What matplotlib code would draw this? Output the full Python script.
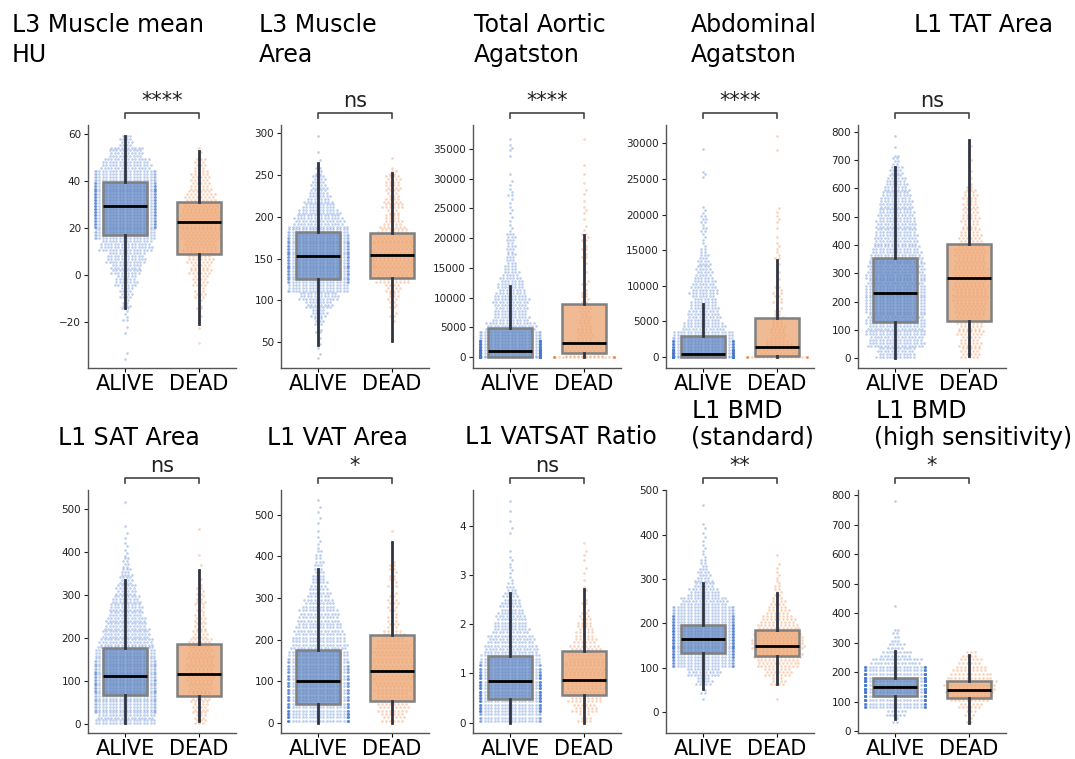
import matplotlib
matplotlib.use("Agg")
import matplotlib.pyplot as plt
import matplotlib.transforms as mtransforms

plt.rcParams['font.family'] = ['DejaVu Sans']

groups = ["ALIVE", "DEAD"]

# --- values ------------------------------------------------------------
# swarm data is kept as (level, count) pairs: how many dots sit around each level
# box data is [whisker low, q1, median, q3, whisker high]

# L3 Muscle mean HU
hu_alive_y = [-34.5, -23.5, -17.5, -12.5, -7.5, -2.5, 2.5, 7.5, 12.5, 17.5, 22.5, 27.5, 32.5, 37.5, 42.5, 47.5, 52.5, 57.5]
hu_alive_n = [2, 2, 5, 10, 16, 26, 36, 46, 62, 75, 95, 100, 100, 95, 80, 58, 40, 15]
hu_dead_y = [-29, -22.5, -17.5, -12.5, -7.5, -2.5, 2.5, 7.5, 12.5, 17.5, 22.5, 27.5, 32.5, 37.5, 42.5, 47.5, 52.5]
hu_dead_n = [1, 1, 3, 5, 11, 16, 22, 26, 33, 40, 41, 38, 33, 22, 19, 12, 3]
hu_box_alive = [-14, 17, 29.5, 39.5, 59.5]
hu_box_dead = [-21, 9, 22.5, 31, 53]

# L3 Muscle Area
ma_alive_y = [33, 45, 55, 65, 75, 85, 95, 105, 115, 125, 135, 145, 155, 165, 175, 185, 195, 205, 215, 225, 235, 245, 255, 265, 278, 297]
ma_alive_n = [2, 2, 3, 5, 9, 14, 24, 35, 55, 65, 70, 70, 70, 68, 62, 55, 45, 38, 28, 20, 15, 12, 6, 2, 1, 1]
ma_dead_y = [55, 65, 75, 85, 95, 105, 115, 125, 135, 145, 155, 165, 175, 185, 195, 205, 215, 225, 235, 245, 255, 270]
ma_dead_n = [1, 1, 3, 5, 6, 8, 12, 25, 30, 33, 33, 30, 30, 22, 14, 10, 16, 10, 12, 12, 5, 1]
ma_box_alive = [46, 125, 153, 182, 265]
ma_box_dead = [51, 127, 154, 181, 253]

# Total Aortic Agatston
ta_alive_y = [750, 2250, 3750, 5250, 6750, 8250, 9750, 11250, 12750, 14250, 15750, 17250, 18750, 20250, 21750, 23250, 24750, 26250, 27750, 29250, 30750, 33750, 35250, 36750]
ta_alive_n = [200, 120, 60, 45, 32, 30, 32, 25, 22, 14, 10, 8, 8, 9, 3, 2, 3, 2, 4, 2, 1, 1, 3, 1]
ta_dead_y = [750, 2250, 3750, 5250, 6750, 8250, 9750, 11250, 12750, 14250, 15750, 17250, 18750, 20250, 21750, 23250, 24750, 26250, 27750, 29250, 30750, 32250, 36750]
ta_dead_n = [30, 26, 12, 10, 8, 9, 6, 4, 5, 3, 3, 4, 4, 6, 2, 1, 3, 1, 2, 1, 1, 1, 1]
ta_zeros = [150, 28]
ta_box_alive = [0, 50, 1000, 4800, 12000]
ta_box_dead = [0, 600, 2400, 8900, 20500]

# Abdominal Agatston
ab_alive_y = [625, 1875, 3125, 4375, 5625, 6875, 8125, 9375, 10625, 11875, 13125, 14375, 15625, 16875, 18125, 19375, 20625, 25625, 29200]
ab_alive_n = [150, 90, 55, 38, 30, 26, 22, 25, 20, 15, 12, 8, 4, 3, 5, 6, 3, 3, 1]
ab_dead_y = [625, 1875, 3125, 4375, 5625, 6875, 8125, 9375, 10625, 11875, 13125, 14375, 15625, 16875, 18125, 19375, 20625, 29000, 31000]
ab_dead_n = [30, 20, 12, 11, 8, 5, 7, 7, 2, 3, 3, 4, 3, 1, 1, 3, 2, 1, 1]
ab_zeros = [200, 25]
ab_box_alive = [0, 0, 460, 3000, 7400]
ab_box_dead = [0, 150, 1450, 5500, 13600]

# L1 TAT Area
tat_alive_y = [20, 60, 100, 140, 180, 220, 260, 300, 340, 380, 420, 460, 500, 540, 580, 620, 660, 700, 745, 785]
tat_alive_n = [45, 66, 70, 70, 72, 72, 70, 70, 66, 58, 52, 48, 45, 40, 34, 26, 16, 8, 1, 1]
tat_dead_y = [20, 60, 100, 140, 180, 220, 260, 300, 340, 380, 420, 460, 500, 540, 580, 620, 660, 700, 740, 770]
tat_dead_n = [20, 22, 26, 28, 32, 35, 34, 37, 31, 31, 24, 18, 18, 15, 14, 5, 3, 3, 2, 1]
tat_box_alive = [3, 127, 229, 355, 676]
tat_box_dead = [8, 131, 284, 404, 771]

# L1 SAT Area
sat_alive_y = [12.5, 37.5, 62.5, 87.5, 112.5, 137.5, 162.5, 187.5, 212.5, 237.5, 262.5, 287.5, 312.5, 337.5, 362.5, 387.5, 412.5, 437.5, 460, 515]
sat_alive_n = [70, 80, 80, 85, 85, 80, 72, 65, 56, 48, 40, 34, 24, 16, 10, 6, 3, 2, 1, 1]
sat_dead_y = [12.5, 37.5, 62.5, 87.5, 112.5, 137.5, 162.5, 187.5, 212.5, 237.5, 262.5, 287.5, 312.5, 337.5, 362.5, 392, 452]
sat_dead_n = [12, 16, 20, 24, 26, 27, 26, 24, 15, 12, 9, 10, 7, 3, 2, 1, 1]
sat_box_alive = [3, 67, 112, 176, 335]
sat_box_dead = [8, 66, 117, 187, 357]

# L1 VAT Area
vat_alive_y = [12.5, 37.5, 62.5, 87.5, 112.5, 137.5, 162.5, 187.5, 212.5, 237.5, 262.5, 287.5, 312.5, 337.5, 362.5, 387.5, 412.5, 437.5, 462.5, 487.5, 512.5, 535]
vat_alive_n = [90, 80, 75, 75, 70, 65, 55, 50, 46, 40, 36, 28, 20, 14, 10, 8, 5, 3, 1, 2, 2, 1]
vat_dead_y = [12.5, 37.5, 62.5, 87.5, 112.5, 137.5, 162.5, 187.5, 212.5, 237.5, 262.5, 287.5, 312.5, 337.5, 362.5, 387.5, 412.5, 462]
vat_dead_n = [18, 24, 26, 28, 30, 30, 30, 26, 17, 9, 7, 9, 5, 7, 6, 4, 1, 1]
vat_box_alive = [0, 46, 101, 176, 369]
vat_box_dead = [0, 52, 124, 210, 434]

# L1 VATSAT Ratio
vs_alive_y = [0.1, 0.3, 0.5, 0.7, 0.9, 1.1, 1.3, 1.5, 1.7, 1.9, 2.1, 2.3, 2.5, 2.7, 2.9, 3.1, 3.3, 3.5, 3.9, 4.1, 4.3, 4.5]
vs_alive_n = [65, 85, 90, 90, 85, 70, 55, 48, 42, 32, 28, 22, 16, 10, 4, 3, 3, 1, 2, 1, 1, 1]
vs_dead_y = [0.1, 0.3, 0.5, 0.7, 0.9, 1.1, 1.3, 1.5, 1.7, 1.9, 2.1, 2.3, 2.5, 2.7, 2.9, 3.1, 3.3, 3.45, 3.65]
vs_dead_n = [10, 19, 25, 29, 31, 30, 28, 24, 17, 13, 10, 5, 4, 3, 1, 2, 1, 2, 1]
vs_box_alive = [0, 0.49, 0.845, 1.35, 2.63]
vs_box_dead = [0, 0.56, 0.87, 1.45, 2.71]

# L1 BMD (standard)
bmd_alive_y = [30, 50, 70, 90, 110, 130, 150, 170, 190, 210, 230, 250, 270, 290, 310, 330, 350, 370, 390, 410, 425, 467]
bmd_alive_n = [1, 4, 14, 30, 70, 80, 85, 85, 85, 75, 60, 42, 28, 18, 12, 7, 4, 3, 2, 2, 1, 1]
bmd_dead_y = [30, 70, 90, 110, 130, 150, 170, 190, 210, 230, 250, 270, 290, 310, 330, 355]
bmd_dead_n = [1, 11, 21, 33, 38, 42, 40, 34, 26, 17, 11, 6, 4, 3, 2, 1]
bmd_box_alive = [51, 133, 164, 197, 292]
bmd_box_dead = [62, 126, 149, 184, 268]

# L1 BMD (high sensitivity)
hs_alive_y = [37.5, 62.5, 87.5, 112.5, 137.5, 162.5, 187.5, 212.5, 237.5, 262.5, 287.5, 312.5, 337.5, 425, 780]
hs_alive_n = [3, 12, 60, 90, 100, 100, 90, 60, 30, 18, 10, 5, 4, 1, 1]
hs_dead_y = [37.5, 62.5, 87.5, 112.5, 137.5, 162.5, 187.5, 212.5, 237.5, 262.5]
hs_dead_n = [3, 6, 12, 20, 26, 28, 23, 17, 12, 7]
hs_box_alive = [41, 120, 150, 181, 272]
hs_box_dead = [29, 113, 139, 170, 257]

titles = [["L3 Muscle mean", "HU"], ["L3 Muscle", "Area"], ["Total Aortic", "Agatston"],
          ["Abdominal", "Agatston"], ["L1 TAT Area"], ["L1 SAT Area"], ["L1 VAT Area"],
          ["L1 VATSAT Ratio"], ["L1 BMD", "(standard)"], ["L1 BMD", "(high sensitivity)"]]
stars = ["****", "ns", "****", "****", "ns", "ns", "*", "ns", "**", "*"]

panels = [
    (hu_alive_y, hu_alive_n, hu_dead_y, hu_dead_n, hu_box_alive, hu_box_dead, None),
    (ma_alive_y, ma_alive_n, ma_dead_y, ma_dead_n, ma_box_alive, ma_box_dead, None),
    (ta_alive_y, ta_alive_n, ta_dead_y, ta_dead_n, ta_box_alive, ta_box_dead, ta_zeros),
    (ab_alive_y, ab_alive_n, ab_dead_y, ab_dead_n, ab_box_alive, ab_box_dead, ab_zeros),
    (tat_alive_y, tat_alive_n, tat_dead_y, tat_dead_n, tat_box_alive, tat_box_dead, None),
    (sat_alive_y, sat_alive_n, sat_dead_y, sat_dead_n, sat_box_alive, sat_box_dead, None),
    (vat_alive_y, vat_alive_n, vat_dead_y, vat_dead_n, vat_box_alive, vat_box_dead, None),
    (vs_alive_y, vs_alive_n, vs_dead_y, vs_dead_n, vs_box_alive, vs_box_dead, None),
    (bmd_alive_y, bmd_alive_n, bmd_dead_y, bmd_dead_n, bmd_box_alive, bmd_box_dead, None),
    (hs_alive_y, hs_alive_n, hs_dead_y, hs_dead_n, hs_box_alive, hs_box_dead, None),
]

# --- layout (pixels in the 1075x759 picture) ---------------------------
W, H = 1075, 759
ax_lefts = [88, 281, 473, 666, 858]
row_tops = [125, 490]
ax_w, ax_h = 148, 243
ylims = [(-39.8, 64), (19, 310), (-1850, 39040), (-1545, 32570), (-34, 823),
         (-20, 543), (-25, 560), (-0.21, 4.73), (-47.5, 501), (-6, 817)]
yticks = [range(-20, 61, 20), range(50, 301, 50), range(0, 35001, 5000), range(0, 30001, 5000),
          range(0, 801, 100), range(0, 501, 100), range(0, 501, 100), range(0, 5),
          range(0, 501, 100), range(0, 801, 100)]
bands = [5, 10, 1500, 1250, 40, 25, 25, 0.2, 20, 25]
title_pos = [[(12, 32), (12, 62)], [(259, 32), (259, 62)], [(474, 32), (474, 62)],
             [(691, 32), (691, 62)], [(914, 32)], [(58, 445)], [(267, 445)], [(465, 444)],
             [(692, 418), (691, 445)], [(876, 418), (874, 445)]]

point_colors = ['#4878d0', '#ee854a']
dot_pitch = [3.4, 3.9]      # px between dots in a row; the smaller group is looser
box_faces = [(0.36, 0.51, 0.75, 0.70), (0.92, 0.63, 0.42, 0.72)]


def swarm_xy(ax, pos, levels, counts, band, dp):
    '''Lay out dots for (level, count) pairs like a beeswarm, with overflow at the edges'''
    x0, x1 = ax.get_xlim()
    y0, y1 = ax.get_ylim()
    sx = ax.bbox.width / (x1 - x0)
    sy = ax.bbox.height / (y1 - y0)
    half = 0.4 * sx
    cap = int(2 * half / dp) + 1
    band_px = band * sy
    nr_max = max(1, int(round(band_px / 3.0)))
    xs, ys = [], []
    for lv, n in zip(levels, counts):
        if n == 0:
            continue
        rows = min(n, nr_max)
        for r in range(rows):
            k = n // rows + (1 if r < n % rows else 0)
            yo = (r - (rows - 1) / 2) * band_px / rows
            inrow = min(k, cap)
            shift = dp / 2 if (r % 2 and inrow < cap) else 0
            for m in range(inrow):
                xs.append(pos + ((m - (inrow - 1) / 2) * dp + shift) / sx)
                ys.append(lv + yo / sy)
            for m in range(k - inrow):
                side = -1 if m % 2 == 0 else 1
                xs.append(pos + side * half / sx)
                ys.append(lv + yo / sy)
    return xs, ys


fig = plt.figure(figsize=(W / 100, H / 100), dpi=100)

for i, (ay, an, dy, dn, bxa, bxd, zeros) in enumerate(panels):
    row, col = divmod(i, 5)
    left = ax_lefts[col] / W
    bottom = 1 - (row_tops[row] + ax_h) / H
    ax = fig.add_axes([left, bottom, ax_w / W, ax_h / H])
    ax.set_xlim(-0.5, 1.5)
    ax.set_ylim(*ylims[i])

    # swarm points
    for g, (ly, ln) in enumerate([(ay, an), (dy, dn)]):
        xs, ys = swarm_xy(ax, g, ly, ln, bands[i], dot_pitch[g])
        if zeros is not None:
            zx, zy = swarm_xy(ax, g, [0], [zeros[g]], 0, dot_pitch[g])
            xs += zx
            ys += zy
        ax.scatter(xs, ys, s=3.6, color=point_colors[g], alpha=0.36, linewidths=0, zorder=1)

    # boxes
    stats = []
    for b in (bxa, bxd):
        stats.append(dict(whislo=b[0], q1=b[1], med=b[2], q3=b[3], whishi=b[4], fliers=[]))
    bp = ax.bxp(stats, positions=[0, 1], widths=0.6, showfliers=False, showcaps=False,
                patch_artist=True,
                boxprops=dict(linewidth=1.8, edgecolor='#808080'),
                whiskerprops=dict(color='#2f3440', linewidth=2),
                medianprops=dict(color='black', linewidth=2))
    for g, patch in enumerate(bp['boxes']):
        patch.set_facecolor(box_faces[g])
        patch.set_zorder(2)
    for wl in bp['whiskers']:
        wl.set_zorder(3)
    for md in bp['medians']:
        md.set_zorder(4)

    ax.set_xticks([0, 1])
    ax.set_xticklabels(groups, fontsize=15)
    ax.set_yticks(list(yticks[i]))
    ax.tick_params(axis='y', labelsize=7.5, length=3, width=0.8, pad=2, colors='#222222')
    ax.tick_params(axis='x', length=3, width=0.8, pad=1)
    for s in ['top', 'right']:
        ax.spines[s].set_visible(False)
    for s in ['left', 'bottom']:
        ax.spines[s].set_color('#555555')
        ax.spines[s].set_linewidth(1)

    # significance bracket
    trans = mtransforms.blended_transform_factory(ax.transData, ax.transAxes)
    hpx = ax.bbox.height
    top = 1 + 12.5 / hpx
    leg = 1 + 7.5 / hpx
    ax.plot([0, 0, 1, 1], [leg, top, top, leg], color='#444444', lw=1.2,
            transform=trans, clip_on=False)
    ax.text(0.5, 1 + 18 / hpx, stars[i], transform=trans, ha='center', va='baseline',
            fontsize=15, color='#222222')

    # title lines
    for line, (tx, ty) in zip(titles[i], title_pos[i]):
        fig.text(tx / W, 1 - ty / H, line, fontsize=17, ha='left', va='baseline')

plt.savefig("out.png", dpi=100)
